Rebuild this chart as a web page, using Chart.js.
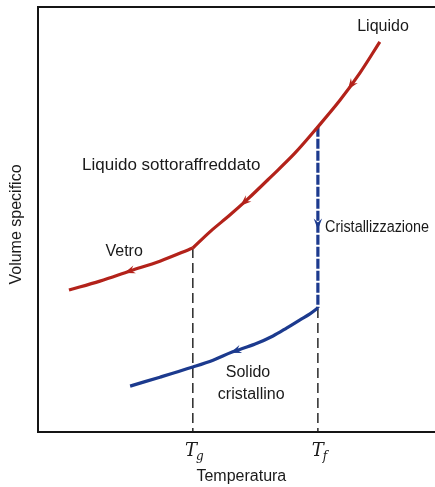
<!DOCTYPE html>
<html>
<head>
<meta charset="utf-8">
<script src="https://cdn.jsdelivr.net/npm/chart.js@4/dist/chart.umd.min.js"></script>
<style>
  html, body { margin: 0; padding: 0; background: #ffffff; }
  #wrap { width: 435px; height: 487px; }
</style>
</head>
<body>
<div id="wrap"><canvas id="c" width="435" height="487"></canvas></div>
<script>
// Temperature caratteristiche (unità arbitrarie sull'asse orizzontale)
const T_G = 39.0;
const T_F = 70.5;

// Rami della curva volume specifico / temperatura, nel verso del raffreddamento
const liquidoT = [86.1, 81.1, 76.1, 70.5, 64.7, 58.4, 52.6, 48.4, 43.3, 39.0];
const liquidoV = [91.8, 84.5, 78.1, 71.8, 65.6, 59.8, 54.6, 51.1, 47.1, 43.3];
const vetroT   = [39.0, 30.7, 23.2, 15.6, 7.8];
const vetroV   = [43.3, 40.2, 37.9, 35.5, 33.4];
const cristT   = [70.5, 70.5];
const cristV   = [71.8, 29.2];
const solidoT  = [70.5, 68.5, 66.0, 62.7, 59.2, 54.7, 48.9, 44.1, 39.0, 30.7, 23.2];
const solidoV  = [29.2, 27.8, 26.4, 24.5, 22.6, 20.7, 18.8, 16.9, 15.3, 12.9, 10.8];

// Etichette dell'asse delle temperature
const tickValues = [T_G, T_F];
const tickBase   = ['T', 'T'];
const tickSub    = ['g', 'f'];

// Testi del diagramma e loro ancoraggio (temperatura, volume)
const testi   = ['Liquido', 'Liquido sottoraffreddato', 'Vetro', 'Cristallizzazione', 'Solido', 'cristallino'];
const testiT  = [86.9, 11.1, 21.7, 72.3, 52.9, 53.7];
const testiV  = [95.3, 62.8, 42.4, 48.0, 13.9, 8.9];
const testiAl = ['center', 'left', 'center', 'left', 'center', 'center'];
const testiPx = [16, 17, 16, 16, 16, 16];
const testiSx = [1, 1, 1, 0.9, 1, 1];

const ROSSO = '#b3221a';
const BLU = '#1c3a8e';

const toPts = (xs, ys) => xs.map((v, i) => ({ x: v, y: ys[i] }));

// Frecce: dataset, segmento e posizione lungo il segmento
const frecce = [
  { ds: 0, i: 1, t: 0.52 },
  { ds: 0, i: 6, t: 0.25 },
  { ds: 1, i: 2, t: 0.1 },
  { ds: 3, i: 0, t: 0.55 },
  { ds: 2, i: 5, t: 0.95 }
];

const diagramma = {
  id: 'diagramma',
  afterDatasetsDraw(chart) {
    const { ctx, chartArea, scales: { x, y } } = chart;

    // punte di freccia lungo le curve
    frecce.forEach(f => {
      const data = chart.data.datasets[f.ds].data;
      const a = data[f.i], b = data[f.i + 1];
      const ax = x.getPixelForValue(a.x), ay = y.getPixelForValue(a.y);
      const bx = x.getPixelForValue(b.x), by = y.getPixelForValue(b.y);
      const px = ax + (bx - ax) * f.t, py = ay + (by - ay) * f.t;
      let dx = bx - ax, dy = by - ay;
      const len = Math.hypot(dx, dy);
      dx /= len; dy /= len;
      const nx = -dy, ny = dx;
      const col = chart.data.datasets[f.ds].borderColor;
      ctx.save();
      ctx.fillStyle = col;
      ctx.beginPath();
      ctx.moveTo(px + dx * 3, py + dy * 3);
      ctx.lineTo(px - dx * 8 + nx * 4.2, py - dy * 8 + ny * 4.2);
      ctx.lineTo(px - dx * 4, py - dy * 4);
      ctx.lineTo(px - dx * 8 - nx * 4.2, py - dy * 8 - ny * 4.2);
      ctx.closePath();
      ctx.fill();
      ctx.restore();
    });

    ctx.save();
    ctx.fillStyle = '#1a1a1a';
    ctx.textBaseline = 'middle';
    testi.forEach((s, i) => {
      const px = x.getPixelForValue(testiT[i]);
      const py = y.getPixelForValue(testiV[i]);
      ctx.save();
      ctx.font = testiPx[i] + 'px "Liberation Sans", Arial, sans-serif';
      ctx.textAlign = testiAl[i];
      ctx.translate(px, py);
      ctx.scale(testiSx[i], 1);
      ctx.fillText(s, 0, 0);
      ctx.restore();
    });

    // etichette T_g, T_f sotto l'asse
    const fBase = 'italic 18px "DejaVu Serif", "Liberation Serif", serif';
    const fSub = 'italic 12px "DejaVu Serif", "Liberation Serif", serif';
    tickValues.forEach((v, i) => {
      const px = x.getPixelForValue(v);
      const base = chartArea.bottom + 24;
      ctx.font = fBase;
      const wb = ctx.measureText(tickBase[i]).width;
      ctx.font = fSub;
      const ws = ctx.measureText(tickSub[i]).width;
      const x0 = px + 2 - (wb + ws) / 2;
      ctx.textAlign = 'left';
      ctx.textBaseline = 'alphabetic';
      ctx.font = fBase;
      ctx.fillText(tickBase[i], x0, base);
      ctx.font = fSub;
      ctx.fillText(tickSub[i], x0 + wb - 1, base + 4);
    });

    // titoli degli assi
    ctx.font = '16px "Liberation Sans", Arial, sans-serif';
    ctx.textAlign = 'center';
    ctx.textBaseline = 'middle';
    ctx.fillText('Temperatura', (x.getPixelForValue(T_G) + x.getPixelForValue(T_F)) / 2 - 14, chartArea.bottom + 45);
    ctx.translate(chartArea.left - 21, (chartArea.top + chartArea.bottom) / 2 + 5);
    ctx.rotate(-Math.PI / 2);
    ctx.fillText('Volume specifico', 0, 0);
    ctx.restore();
  }
};

const asse = (pos, showBorder) => ({
  type: 'linear',
  position: pos,
  min: 0,
  max: 100,
  display: true,
  ticks: { display: false },
  grid: { display: false, drawTicks: false },
  border: { display: showBorder, color: '#151515', width: 2 }
});

new Chart(document.getElementById('c'), {
  type: 'scatter',
  data: {
    datasets: [
      { data: toPts(liquidoT, liquidoV), showLine: true, borderColor: ROSSO, borderWidth: 3.2, tension: 0.35, order: 0 },
      { data: toPts(vetroT, vetroV), showLine: true, borderColor: ROSSO, borderWidth: 3.2, tension: 0.35, order: 0 },
      { data: toPts(solidoT, solidoV), showLine: true, borderColor: BLU, borderWidth: 3.2, tension: 0.35, order: 1 },
      { data: toPts(cristT, cristV), showLine: true, borderColor: BLU, borderWidth: 3.2, borderDash: [10, 2], order: 2 },
      { data: toPts([T_G, T_G], [vetroV[0], 0]), showLine: true, borderColor: '#1a1a1a', borderWidth: 1.4, borderDash: [10, 5], order: 3 },
      { data: toPts([T_F, T_F], [solidoV[0], 0]), showLine: true, borderColor: '#1a1a1a', borderWidth: 1.4, borderDash: [10, 5], order: 3 }
    ]
  },
  options: {
    responsive: false,
    animation: false,
    devicePixelRatio: 1,
    layout: { padding: { left: 38, top: 7, right: 0, bottom: 55 } },
    elements: { point: { radius: 0, hoverRadius: 0 }, line: { borderCapStyle: 'butt' } },
    plugins: { legend: { display: false }, tooltip: { enabled: false } },
    scales: {
      x: asse('bottom', true),
      xTop: asse('top', true),
      y: asse('left', true)
    }
  },
  plugins: [diagramma]
});
</script>
</body>
</html>
